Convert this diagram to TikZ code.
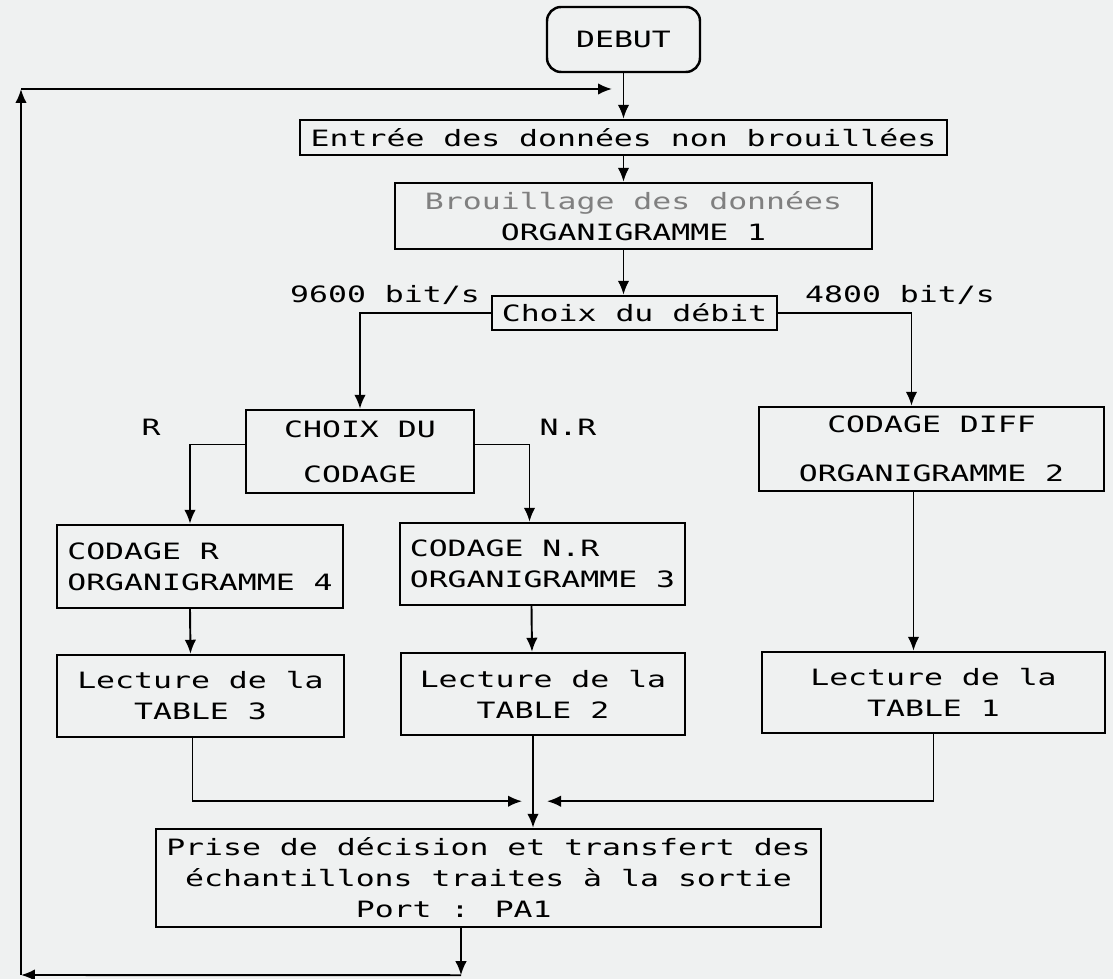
\documentclass[tikz,border=0pt]{standalone}
\usepackage{fontspec}
\newfontfamily\dotfont[FakeStretch=1.4]{DejaVu Sans Mono}
\usetikzlibrary{arrows.meta,calc}
\definecolor{papier}{RGB}{239,241,241}
\definecolor{pale}{gray}{0.5}
\tikzset{
  bloc/.style={draw,line width=1.4pt,inner sep=0pt,align=center,font=\dotfont\fontsize{12.8}{17.6}\selectfont},
  lbl/.style={font=\dotfont\fontsize{12.8}{17.6}\selectfont},
  fleche/.style={line width=1.1pt,-{Latex[length=2.8mm,width=2.3mm]}}
}
\begin{document}
\begin{tikzpicture}[x=0.02cm,y=-0.02cm]
    \fill[papier](0,0)rectangle(1113,979);
    \useasboundingbox(0,0)rectangle(1113,979);
    % blocs
    \node[bloc,rounded corners=8pt,minimum width=3.06cm,minimum height=1.3cm](debut)at(623.5,39.5){DEBUT};
    \node[bloc,minimum width=12.94cm,minimum height=0.7cm](entree)at(623.5,137.5){Entrée des données non brouillées};
    \node[bloc,minimum width=9.54cm,minimum height=1.32cm](brouil)at(633.5,216){{\color{pale}Brouillage des données}\\ORGANIGRAMME 1};
    \node[bloc,minimum width=5.7cm,minimum height=0.68cm](choixd)at(634.5,313){Choix du débit};
    \node[bloc,minimum width=4.56cm,minimum height=1.66cm](choixc)at(360,451.5){CHOIX DU\\[8pt]CODAGE};
    \node[bloc,minimum width=6.9cm,minimum height=1.68cm](cdiff)at(931.5,449){CODAGE DIFF\\[10pt]ORGANIGRAMME 2};
    \node[bloc,align=left,minimum width=5.72cm,minimum height=1.66cm](codr)at(200,566.5){CODAGE R\\ORGANIGRAMME 4};
    \node[bloc,align=left,minimum width=5.7cm,minimum height=1.64cm](codnr)at(542.5,564){CODAGE N.R\\ORGANIGRAMME 3};
    \node[bloc,minimum width=5.74cm,minimum height=1.64cm](tab3)at(200.5,696){Lecture de la\\TABLE 3};
    \node[bloc,minimum width=5.68cm,minimum height=1.64cm](tab2)at(543,694){Lecture de la\\TABLE 2};
    \node[bloc,minimum width=6.86cm,minimum height=1.62cm](tab1)at(933.5,692.5){Lecture de la\\TABLE 1};
    \node[bloc,align=left,minimum width=13.3cm,minimum height=1.96cm](prise)at(488.5,878){Prise de décision et transfert des\\\phantom{x}échantillons traites à la sortie\\\phantom{xxxxxxxxxx}Port : PA1};
    % etiquettes
    \node[lbl](v96)at(385,295){9600 bit/s};
    \node[lbl](v48)at(900,295){4800 bit/s};
    \node[lbl](lr)at(151,427){R};
    \node[lbl](lnr)at(568,427){N.R};
    % liaisons
    \coordinate(jn)at(623,89);
    \coordinate(hg)at(21,89);
    \coordinate(bg)at(21,975);
    \coordinate(mrg)at($(tab2.south)+(-10,65)$);
    \coordinate(sortie)at($(prise.south)+(-27.5,47)$);
    \draw[fleche](debut)--(entree);
    \draw[fleche](entree.south)--(entree.south|-brouil.north);
    \draw[fleche](brouil.south-|entree.south)--(entree.south|-choixd.north);
    \draw[fleche](choixd.west)-|(choixc.north);
    \draw[fleche](choixd.east)-|($(cdiff.north)+(-20,0)$);
    \draw[fleche]($(choixc.west)+(0,-7)$)-|($(codr.north)+(-10,0)$);
    \draw[fleche]($(choixc.east)+(0,-7)$)-|($(codnr.north)+(-13,0)$);
    \draw[fleche]($(codr.south)+(-10,0)$)--($(tab3.north)+(-10,0)$);
    \draw[fleche]($(codnr.south)+(-11,0)$)--($(tab2.north)+(-11,0)$);
    \draw[fleche]($(cdiff.south)+(-18,0)$)--($(tab1.north)+(-20,0)$);
    \draw[fleche]($(tab2.south)+(-10,0)$)--($(prise.north)+(44.5,0)$);
    \draw[fleche]($(tab3.south)+(-8,0)$)|-($(mrg)+(-11,0)$);
    \draw[fleche](tab1.south)|-($(mrg)+(14,0)$);
    \draw[fleche]($(prise.south)+(-27.5,0)$)--(sortie);
    \draw[fleche](sortie)--(bg);
    \draw[fleche](bg)--(hg);
    \draw[fleche](hg)--($(jn)+(-11,0)$);
\end{tikzpicture}
\end{document}
